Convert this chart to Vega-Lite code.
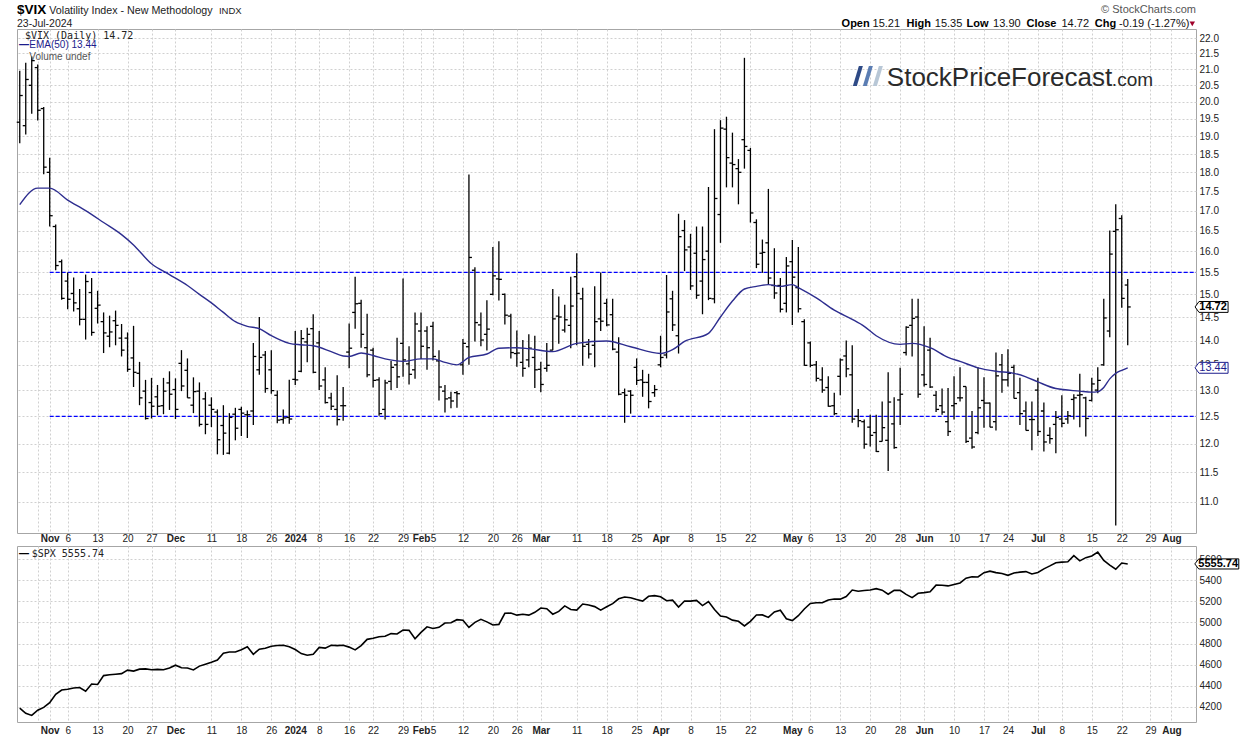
{
"$schema": "https://vega.github.io/schema/vega-lite/v6.json",
"background": "white",
"padding": {"left": 16, "top": 2, "right": 0, "bottom": 0},
"bounds": "flush",
"spacing": 13,
"config": {"view": {"stroke": "#a6a6a6"}, "axis": {"labelFont": "Liberation Sans", "labelFontSize": 10, "labelColor": "#222", "labelOverlap": false, "labelSeparation": -100, "tickCount": 200}, "text": {"font": "Liberation Sans"}},
"datasets": {
"levels": [{"level": 15.5, "start": -3}, {"level": 12.5, "start": -3}],
"vix": [
{"i":-8,"o":19.4,"h":20.95,"l":18.8,"c":20.19},{"i":-7,"o":19.3,"h":21.2,"l":19.05,"c":20.68},{"i":-6,"o":20.5,"h":21.4,"l":19.65,"c":21.27},{"i":-5,"o":21.05,"h":21.15,"l":19.45,"c":19.75},{"i":-4,"o":19.8,"h":19.85,"l":17.95,"c":18.14},{"i":-3,"o":18.0,"h":18.4,"l":16.6,"c":16.87},{"i":-2,"o":16.6,"h":16.65,"l":15.55,"c":15.66},{"i":-1,"o":15.75,"h":15.8,"l":14.88,"c":14.91},
{"i":0,"o":15.3,"h":15.5,"l":14.67,"c":14.89},{"i":1,"o":15.02,"h":15.38,"l":14.62,"c":14.81},{"i":2,"o":14.68,"h":15.12,"l":14.32,"c":14.45},{"i":3,"o":14.45,"h":15.45,"l":14.02,"c":15.29},{"i":4,"o":15.04,"h":15.37,"l":14.1,"c":14.17},
{"i":5,"o":14.69,"h":15.08,"l":14.36,"c":14.76},{"i":6,"o":14.4,"h":14.6,"l":13.74,"c":14.16},{"i":7,"o":14.09,"h":14.53,"l":13.86,"c":14.18},{"i":8,"o":14.42,"h":14.64,"l":13.9,"c":14.32},{"i":9,"o":14.05,"h":14.35,"l":13.67,"c":13.8},
{"i":10,"o":14.05,"h":14.17,"l":13.36,"c":13.41},{"i":11,"o":13.64,"h":14.31,"l":13.06,"c":13.35},{"i":12,"o":13.33,"h":13.56,"l":12.71,"c":12.85},{"i":13,"o":12.98,"h":13.2,"l":12.44,"c":12.46},
{"i":14,"o":12.76,"h":13.24,"l":12.46,"c":12.69},{"i":15,"o":12.87,"h":13.1,"l":12.52,"c":12.69},{"i":16,"o":12.7,"h":13.24,"l":12.54,"c":12.98},{"i":17,"o":13.14,"h":13.37,"l":12.62,"c":12.92},{"i":18,"o":13.01,"h":13.23,"l":12.45,"c":12.63},
{"i":19,"o":13.53,"h":13.8,"l":12.98,"c":13.08},{"i":20,"o":13.39,"h":13.63,"l":12.85,"c":12.85},{"i":21,"o":12.71,"h":13.25,"l":12.56,"c":12.97},{"i":22,"o":12.98,"h":13.15,"l":12.31,"c":12.35},{"i":23,"o":12.83,"h":12.96,"l":12.17,"c":12.35},
{"i":24,"o":12.71,"h":12.86,"l":12.3,"c":12.63},{"i":25,"o":12.58,"h":12.63,"l":11.81,"c":12.07},{"i":26,"o":12.33,"h":12.71,"l":11.8,"c":12.19},{"i":27,"o":11.83,"h":12.56,"l":11.81,"c":12.48},{"i":28,"o":12.54,"h":12.66,"l":12.06,"c":12.28},
{"i":29,"o":12.63,"h":12.68,"l":12.14,"c":12.56},{"i":30,"o":12.53,"h":12.61,"l":12.1,"c":12.53},{"i":31,"o":12.6,"h":13.95,"l":12.34,"c":13.67},{"i":32,"o":13.4,"h":14.5,"l":13.3,"c":13.65},{"i":33,"o":13.7,"h":13.78,"l":12.95,"c":13.03},
{"i":34,"o":13.4,"h":13.8,"l":12.93,"c":12.99},{"i":35,"o":12.9,"h":12.99,"l":12.37,"c":12.43},{"i":36,"o":12.44,"h":12.63,"l":12.36,"c":12.47},{"i":37,"o":12.48,"h":13.2,"l":12.36,"c":12.45},
{"i":38,"o":13.21,"h":14.2,"l":13.1,"c":13.2},{"i":39,"o":13.37,"h":14.22,"l":13.35,"c":14.04},{"i":40,"o":13.97,"h":14.27,"l":13.55,"c":14.13},{"i":41,"o":14.25,"h":14.56,"l":13.33,"c":13.35},
{"i":42,"o":13.95,"h":14.2,"l":13.0,"c":13.08},{"i":43,"o":13.2,"h":13.45,"l":12.74,"c":12.76},{"i":44,"o":12.85,"h":12.95,"l":12.62,"c":12.69},{"i":45,"o":12.63,"h":13.29,"l":12.33,"c":12.44},{"i":46,"o":12.7,"h":13.06,"l":12.42,"c":12.7},
{"i":47,"o":13.76,"h":14.36,"l":13.43,"c":13.84},{"i":48,"o":14.6,"h":15.4,"l":14.25,"c":14.79},{"i":49,"o":14.8,"h":14.88,"l":13.85,"c":14.13},{"i":50,"o":13.85,"h":14.57,"l":13.25,"c":13.3},
{"i":51,"o":13.8,"h":13.85,"l":13.05,"c":13.19},{"i":52,"o":13.2,"h":13.25,"l":12.51,"c":12.55},{"i":53,"o":12.63,"h":13.2,"l":12.44,"c":13.14},{"i":54,"o":13.17,"h":13.58,"l":13.0,"c":13.45},{"i":55,"o":13.5,"h":14.06,"l":13.04,"c":13.26},
{"i":56,"o":13.94,"h":15.36,"l":13.26,"c":13.6},{"i":57,"o":13.52,"h":13.88,"l":13.11,"c":13.31},{"i":58,"o":13.4,"h":14.6,"l":13.22,"c":14.35},{"i":59,"o":14.2,"h":14.6,"l":13.62,"c":13.88},{"i":60,"o":14.2,"h":14.3,"l":13.4,"c":13.85},
{"i":61,"o":14.3,"h":14.4,"l":13.59,"c":13.67},{"i":62,"o":13.58,"h":13.8,"l":12.8,"c":13.06},{"i":63,"o":12.98,"h":13.1,"l":12.57,"c":12.83},{"i":64,"o":12.85,"h":12.97,"l":12.65,"c":12.79},{"i":65,"o":12.95,"h":12.98,"l":12.66,"c":12.93},
{"i":66,"o":13.5,"h":14.03,"l":13.3,"c":13.94},{"i":67,"o":13.87,"h":17.94,"l":13.5,"c":15.85},{"i":68,"o":15.55,"h":15.62,"l":13.98,"c":14.38},{"i":69,"o":14.33,"h":14.6,"l":13.88,"c":14.01},{"i":70,"o":14.13,"h":14.87,"l":13.79,"c":14.24},
{"i":71,"o":15.0,"h":16.1,"l":14.98,"c":15.42},{"i":72,"o":15.35,"h":16.24,"l":14.86,"c":15.34},{"i":73,"o":15.0,"h":15.02,"l":14.34,"c":14.54},{"i":74,"o":14.52,"h":14.57,"l":13.63,"c":13.75},
{"i":75,"o":13.73,"h":14.21,"l":13.46,"c":13.74},{"i":76,"o":13.55,"h":14.01,"l":13.26,"c":13.43},{"i":77,"o":13.6,"h":14.13,"l":13.45,"c":13.84},{"i":78,"o":13.65,"h":14.1,"l":13.04,"c":13.4},{"i":79,"o":13.41,"h":13.56,"l":12.96,"c":13.11},
{"i":80,"o":13.43,"h":13.95,"l":13.36,"c":13.49},{"i":81,"o":13.8,"h":15.12,"l":13.8,"c":14.46},{"i":82,"o":14.52,"h":14.95,"l":13.93,"c":14.5},{"i":83,"o":14.22,"h":14.77,"l":14.17,"c":14.44},{"i":84,"o":14.32,"h":15.4,"l":13.84,"c":14.74},
{"i":85,"o":15.4,"h":15.95,"l":13.9,"c":15.02},{"i":86,"o":14.9,"h":15.15,"l":13.48,"c":13.88},{"i":87,"o":13.92,"h":14.03,"l":13.63,"c":13.72},{"i":88,"o":13.9,"h":15.18,"l":13.45,"c":14.4},{"i":89,"o":14.46,"h":15.5,"l":14.2,"c":14.41},
{"i":90,"o":14.8,"h":14.9,"l":14.3,"c":14.33},{"i":91,"o":14.55,"h":14.9,"l":13.8,"c":13.82},{"i":92,"o":13.76,"h":14.07,"l":12.9,"c":12.92},{"i":93,"o":12.95,"h":13.03,"l":12.38,"c":12.9},{"i":94,"o":12.98,"h":13.0,"l":12.55,"c":12.9},
{"i":95,"o":13.45,"h":13.63,"l":13.1,"c":13.19},{"i":96,"o":13.2,"h":13.4,"l":12.87,"c":13.15},{"i":97,"o":13.15,"h":13.32,"l":12.65,"c":12.78},{"i":98,"o":12.95,"h":13.1,"l":12.87,"c":13.01},
{"i":99,"o":13.5,"h":14.1,"l":13.45,"c":13.65},{"i":100,"o":13.7,"h":15.44,"l":13.63,"c":14.61},{"i":101,"o":14.9,"h":15.08,"l":14.2,"c":14.33},{"i":102,"o":14.1,"h":16.92,"l":13.73,"c":16.35},{"i":103,"o":16.5,"h":16.76,"l":15.53,"c":16.03},
{"i":104,"o":16.1,"h":16.42,"l":15.1,"c":15.19},{"i":105,"o":15.95,"h":16.6,"l":14.9,"c":14.98},{"i":106,"o":15.3,"h":16.6,"l":14.56,"c":15.8},{"i":107,"o":16.0,"h":17.61,"l":14.87,"c":14.91},{"i":108,"o":14.9,"h":19.2,"l":14.8,"c":17.31},
{"i":109,"o":16.9,"h":19.46,"l":16.2,"c":19.23},{"i":110,"o":19.2,"h":19.56,"l":17.6,"c":18.4},{"i":111,"o":18.25,"h":19.1,"l":17.6,"c":18.21},{"i":112,"o":18.1,"h":18.36,"l":17.16,"c":18.0},{"i":113,"o":18.9,"h":21.36,"l":18.1,"c":18.71},
{"i":114,"o":18.6,"h":18.67,"l":16.7,"c":16.94},{"i":115,"o":16.7,"h":16.78,"l":15.6,"c":15.69},{"i":116,"o":15.95,"h":16.28,"l":15.49,"c":15.97},{"i":117,"o":16.2,"h":17.56,"l":15.22,"c":15.37},{"i":118,"o":15.2,"h":16.07,"l":14.9,"c":15.03},
{"i":119,"o":15.2,"h":15.37,"l":14.6,"c":14.67},{"i":120,"o":14.8,"h":15.86,"l":14.6,"c":15.65},{"i":121,"o":15.75,"h":16.27,"l":14.33,"c":15.39},{"i":122,"o":15.15,"h":16.1,"l":14.6,"c":14.68},{"i":123,"o":14.4,"h":14.45,"l":13.48,"c":13.49},
{"i":124,"o":13.95,"h":13.98,"l":13.45,"c":13.49},{"i":125,"o":13.5,"h":13.58,"l":13.17,"c":13.23},{"i":126,"o":13.2,"h":13.45,"l":12.95,"c":13.0},{"i":127,"o":13.05,"h":13.27,"l":12.68,"c":12.69},{"i":128,"o":12.7,"h":12.95,"l":12.52,"c":12.55},
{"i":129,"o":13.27,"h":13.63,"l":12.9,"c":13.6},{"i":130,"o":13.68,"h":14.0,"l":13.25,"c":13.42},{"i":131,"o":13.3,"h":13.9,"l":12.38,"c":12.45},{"i":132,"o":12.5,"h":12.64,"l":12.3,"c":12.42},{"i":133,"o":12.4,"h":12.44,"l":11.91,"c":11.99},
{"i":134,"o":12.3,"h":12.53,"l":11.95,"c":12.15},{"i":135,"o":12.2,"h":12.53,"l":11.85,"c":11.86},{"i":136,"o":12.04,"h":12.78,"l":12.04,"c":12.29},{"i":137,"o":12.06,"h":13.35,"l":11.52,"c":12.77},{"i":138,"o":12.36,"h":12.86,"l":11.91,"c":11.93},
{"i":139,"o":12.81,"h":13.44,"l":12.34,"c":12.92},{"i":140,"o":13.75,"h":14.3,"l":13.69,"c":14.28},{"i":141,"o":14.32,"h":14.9,"l":13.67,"c":14.47},{"i":142,"o":14.5,"h":14.9,"l":12.85,"c":12.92},
{"i":143,"o":13.3,"h":14.3,"l":13.07,"c":13.11},{"i":144,"o":13.8,"h":14.06,"l":13.04,"c":13.06},{"i":145,"o":12.9,"h":12.98,"l":12.58,"c":12.63},{"i":146,"o":12.7,"h":13.03,"l":12.53,"c":12.58},{"i":147,"o":12.4,"h":13.04,"l":12.14,"c":12.22},
{"i":148,"o":12.7,"h":13.27,"l":12.44,"c":12.74},{"i":149,"o":12.85,"h":13.45,"l":12.78,"c":12.85},{"i":150,"o":13.07,"h":13.07,"l":12.01,"c":12.04},{"i":151,"o":12.1,"h":12.6,"l":11.91,"c":11.94},{"i":152,"o":12.2,"h":13.45,"l":12.17,"c":12.66},
{"i":153,"o":12.8,"h":13.25,"l":12.29,"c":12.75},{"i":154,"o":12.75,"h":12.76,"l":12.3,"c":12.3},{"i":155,"o":12.4,"h":13.75,"l":12.24,"c":13.28},{"i":156,"o":13.5,"h":13.72,"l":12.95,"c":13.2},
{"i":157,"o":13.2,"h":13.82,"l":13.07,"c":13.33},{"i":158,"o":13.45,"h":13.5,"l":12.84,"c":12.84},{"i":159,"o":12.95,"h":13.24,"l":12.34,"c":12.55},{"i":160,"o":12.6,"h":12.78,"l":12.24,"c":12.24},{"i":161,"o":12.44,"h":12.78,"l":11.88,"c":12.44},
{"i":162,"o":13.0,"h":13.24,"l":12.14,"c":12.22},{"i":163,"o":12.6,"h":12.76,"l":11.86,"c":12.03},{"i":164,"o":12.15,"h":12.3,"l":12.0,"c":12.09},{"i":165,"o":12.35,"h":12.6,"l":11.83,"c":12.48},
{"i":166,"o":12.45,"h":12.9,"l":12.3,"c":12.37},{"i":167,"o":12.45,"h":12.6,"l":12.36,"c":12.51},{"i":168,"o":12.82,"h":12.92,"l":12.44,"c":12.85},{"i":169,"o":12.9,"h":13.32,"l":12.3,"c":12.91},{"i":170,"o":12.85,"h":12.87,"l":12.13,"c":12.46},
{"i":171,"o":12.8,"h":13.24,"l":12.78,"c":13.12},{"i":172,"o":13.0,"h":13.45,"l":12.94,"c":13.19},{"i":173,"o":13.5,"h":14.9,"l":13.48,"c":14.48},{"i":174,"o":14.2,"h":16.5,"l":14.07,"c":15.93},{"i":175,"o":16.48,"h":17.16,"l":10.62,"c":16.52},
{"i":176,"o":16.8,"h":16.88,"l":14.7,"c":14.91},{"i":177,"o":15.21,"h":15.35,"l":13.9,"c":14.72}
],
"ema": [
{"i":-8,"e":17.15},{"i":-5,"e":17.58},{"i":-3,"e":17.58},{"i":0,"e":17.27},{"i":3,"e":17.0},{"i":6,"e":16.7},{"i":9,"e":16.4},{"i":11,"e":16.15},{"i":14,"e":15.7},{"i":17,"e":15.45},{"i":20,"e":15.2},{"i":22,"e":15.0},{"i":24,"e":14.81},{"i":26,"e":14.6},{"i":28,"e":14.4},{"i":30,"e":14.3},{"i":32,"e":14.25},{"i":34,"e":14.1},{"i":37,"e":13.94},{"i":39,"e":13.91},{"i":41,"e":13.89},{"i":44,"e":13.77},{"i":46,"e":13.68},{"i":47,"e":13.67},{"i":49,"e":13.74},{"i":51,"e":13.69},{"i":53,"e":13.62},{"i":56,"e":13.57},{"i":59,"e":13.62},{"i":61,"e":13.62},{"i":63,"e":13.55},{"i":65,"e":13.5},{"i":67,"e":13.65},{"i":70,"e":13.72},{"i":72,"e":13.84},{"i":75,"e":13.85},{"i":77,"e":13.83},{"i":81,"e":13.77},{"i":85,"e":13.94},{"i":90,"e":13.99},{"i":94,"e":13.87},{"i":99,"e":13.73},{"i":101,"e":13.81},{"i":103,"e":13.98},{"i":107,"e":14.15},{"i":109,"e":14.5},{"i":111,"e":14.85},{"i":113,"e":15.12},{"i":115,"e":15.18},{"i":117,"e":15.22},{"i":119,"e":15.18},{"i":121,"e":15.22},{"i":122,"e":15.15},{"i":125,"e":14.92},{"i":128,"e":14.65},{"i":131,"e":14.45},{"i":133,"e":14.3},{"i":135,"e":14.1},{"i":139,"e":13.92},{"i":141,"e":13.94},{"i":144,"e":13.85},{"i":147,"e":13.65},{"i":149,"e":13.57},{"i":152,"e":13.44},{"i":155,"e":13.37},{"i":158,"e":13.33},{"i":160,"e":13.26},{"i":162,"e":13.16},{"i":165,"e":13.03},{"i":169,"e":12.98},{"i":171,"e":12.96},{"i":172,"e":12.97},{"i":173,"e":13.05},{"i":174,"e":13.22},{"i":175,"e":13.33},{"i":176,"e":13.39},{"i":177,"e":13.44}
],
"spx": [
{"i":-8,"c":4186.77},{"i":-7,"c":4137.23},{"i":-6,"c":4117.37},{"i":-5,"c":4166.82},{"i":-4,"c":4193.8},{"i":-3,"c":4237.86},{"i":-2,"c":4317.78},{"i":-1,"c":4358.34},{"i":0,"c":4365.98},{"i":1,"c":4378.38},{"i":2,"c":4382.78},{"i":3,"c":4347.35},{"i":4,"c":4415.24},{"i":5,"c":4411.55},{"i":6,"c":4495.7},{"i":7,"c":4502.88},{"i":8,"c":4508.24},{"i":9,"c":4514.02},{"i":10,"c":4547.38},{"i":11,"c":4538.19},{"i":12,"c":4556.62},{"i":13,"c":4559.34},{"i":14,"c":4550.43},{"i":15,"c":4554.89},{"i":16,"c":4550.58},{"i":17,"c":4567.8},{"i":18,"c":4594.63},{"i":19,"c":4569.78},{"i":20,"c":4567.18},{"i":21,"c":4549.34},{"i":22,"c":4585.59},{"i":23,"c":4604.37},{"i":24,"c":4622.44},{"i":25,"c":4643.7},{"i":26,"c":4707.09},{"i":27,"c":4719.55},{"i":28,"c":4719.19},{"i":29,"c":4740.56},{"i":30,"c":4768.37},{"i":31,"c":4698.35},{"i":32,"c":4746.75},{"i":33,"c":4754.63},{"i":34,"c":4774.75},{"i":35,"c":4781.58},{"i":36,"c":4783.35},{"i":37,"c":4769.83},{"i":38,"c":4742.83},{"i":39,"c":4704.81},{"i":40,"c":4688.68},{"i":41,"c":4697.24},{"i":42,"c":4763.54},{"i":43,"c":4756.5},{"i":44,"c":4783.45},{"i":45,"c":4780.24},{"i":46,"c":4783.83},{"i":47,"c":4765.98},{"i":48,"c":4739.21},{"i":49,"c":4780.94},{"i":50,"c":4839.81},{"i":51,"c":4850.43},{"i":52,"c":4864.6},{"i":53,"c":4868.55},{"i":54,"c":4894.16},{"i":55,"c":4890.97},{"i":56,"c":4927.93},{"i":57,"c":4924.97},{"i":58,"c":4845.65},{"i":59,"c":4906.19},{"i":60,"c":4958.61},{"i":61,"c":4942.81},{"i":62,"c":4954.23},{"i":63,"c":4995.06},{"i":64,"c":4997.91},{"i":65,"c":5026.61},{"i":66,"c":5021.84},{"i":67,"c":4953.17},{"i":68,"c":5000.62},{"i":69,"c":5029.73},{"i":70,"c":5005.57},{"i":71,"c":4975.51},{"i":72,"c":4981.8},{"i":73,"c":5087.03},{"i":74,"c":5088.8},{"i":75,"c":5069.53},{"i":76,"c":5078.18},{"i":77,"c":5069.76},{"i":78,"c":5096.27},{"i":79,"c":5137.08},{"i":80,"c":5130.95},{"i":81,"c":5078.65},{"i":82,"c":5104.76},{"i":83,"c":5157.36},{"i":84,"c":5123.69},{"i":85,"c":5117.94},{"i":86,"c":5175.27},{"i":87,"c":5165.31},{"i":88,"c":5150.48},{"i":89,"c":5117.09},{"i":90,"c":5149.42},{"i":91,"c":5178.51},{"i":92,"c":5224.62},{"i":93,"c":5241.53},{"i":94,"c":5234.18},{"i":95,"c":5218.19},{"i":96,"c":5203.58},{"i":97,"c":5248.49},{"i":98,"c":5254.35},{"i":99,"c":5243.77},{"i":100,"c":5205.81},{"i":101,"c":5211.49},{"i":102,"c":5147.21},{"i":103,"c":5204.34},{"i":104,"c":5202.39},{"i":105,"c":5209.91},{"i":106,"c":5160.64},{"i":107,"c":5199.06},{"i":108,"c":5123.41},{"i":109,"c":5061.82},{"i":110,"c":5051.41},{"i":111,"c":5022.21},{"i":112,"c":5011.12},{"i":113,"c":4967.23},{"i":114,"c":5010.6},{"i":115,"c":5070.55},{"i":116,"c":5071.63},{"i":117,"c":5048.42},{"i":118,"c":5099.96},{"i":119,"c":5116.17},{"i":120,"c":5035.69},{"i":121,"c":5018.39},{"i":122,"c":5064.2},{"i":123,"c":5127.79},{"i":124,"c":5180.74},{"i":125,"c":5187.7},{"i":126,"c":5187.67},{"i":127,"c":5214.08},{"i":128,"c":5222.68},{"i":129,"c":5221.42},{"i":130,"c":5246.68},{"i":131,"c":5308.15},{"i":132,"c":5297.1},{"i":133,"c":5303.27},{"i":134,"c":5308.13},{"i":135,"c":5321.41},{"i":136,"c":5307.01},{"i":137,"c":5267.84},{"i":138,"c":5304.72},{"i":139,"c":5306.04},{"i":140,"c":5266.95},{"i":141,"c":5235.48},{"i":142,"c":5277.51},{"i":143,"c":5283.4},{"i":144,"c":5291.34},{"i":145,"c":5354.03},{"i":146,"c":5352.96},{"i":147,"c":5346.99},{"i":148,"c":5360.79},{"i":149,"c":5375.32},{"i":150,"c":5421.03},{"i":151,"c":5433.74},{"i":152,"c":5431.6},{"i":153,"c":5473.23},{"i":154,"c":5487.03},{"i":155,"c":5473.17},{"i":156,"c":5464.62},{"i":157,"c":5447.87},{"i":158,"c":5469.3},{"i":159,"c":5477.9},{"i":160,"c":5482.87},{"i":161,"c":5460.48},{"i":162,"c":5475.09},{"i":163,"c":5509.01},{"i":164,"c":5537.02},{"i":165,"c":5567.19},{"i":166,"c":5572.85},{"i":167,"c":5576.98},{"i":168,"c":5633.91},{"i":169,"c":5584.54},{"i":170,"c":5615.35},{"i":171,"c":5631.22},{"i":172,"c":5667.2},{"i":173,"c":5588.27},{"i":174,"c":5544.59},{"i":175,"c":5505.0},{"i":176,"c":5564.41},{"i":177,"c":5555.74}
]
},
"vconcat": [
{
"width": 1179, "height": 504,
"layer": [
{"data": {"name": "levels"}, "mark": {"type": "rule", "color": "#0000ff", "strokeDash": [4, 2], "strokeWidth": 1.2},
 "encoding": {
  "x": {"field": "start", "type": "quantitative", "scale": {"domain": [-8.46, 188.4], "nice": false, "zero": false},
   "axis": {"values": [-5,-3,0,5,10,14,18,24,29,34,38,42,47,51,56,59,61,66,71,75,79,85,90,95,99,104,109,114,121,124,129,134,139,143,148,153,157,162,166,171,176,180.8,184.3], "tickCount": 200,
    "labelExpr": "['','Nov','6','13','20','27','Dec','11','18','26','2024','8','16','22','29','Feb','5','12','20','26','Mar','11','18','25','Apr','8','15','22','May','6','13','20','28','Jun','10','17','24','Jul','8','15','22','29','Aug'][indexof([-5,-3,0,5,10,14,18,24,29,34,38,42,47,51,56,59,61,66,71,75,79,85,90,95,99,104,109,114,121,124,129,134,139,143,148,153,157,162,166,171,176,180.8,184.3], datum.value)]",
    "labelFontWeight": {"condition": {"test": "indexof([-3,18,38,59,79,99,121,143,162,184.3], datum.value) >= 0", "value": "bold"}, "value": "normal"},
    "grid": true, "gridDash": [2, 2], "gridColor": "#d0d0d0", "labelOverlap": false, "labelBound": false, "labelFlush": false, "labelPadding": 0, "title": null, "domain": false, "ticks": false}},
  "x2": {"datum": 188.4},
  "y": {"field": "level", "type": "quantitative", "scale": {"type": "log", "domain": [10.5, 22.3], "nice": false},
   "axis": {"orient": "right", "values": [11,11.5,12,12.5,13,13.5,14,14.5,15,15.5,16,16.5,17,17.5,18,18.5,19,19.5,20,20.5,21,21.5,22], "tickCount": 200, "format": ".1f", "grid": true, "gridDash": [2, 2], "gridColor": "#d0d0d0", "labelOverlap": false, "labelPadding": 3, "title": null, "domain": false, "ticks": false}}
 }},
{"data": {"name": "vix"}, "mark": {"type": "rule", "color": "#000", "strokeWidth": 1.3},
 "encoding": {"x": {"field": "i", "type": "quantitative"}, "y": {"field": "l", "type": "quantitative"}, "y2": {"field": "h"}}},
{"data": {"name": "vix"}, "mark": {"type": "tick", "orient": "horizontal", "size": 3, "thickness": 1.3, "color": "#000", "xOffset": -1.5, "opacity": 1},
 "encoding": {"x": {"field": "i", "type": "quantitative"}, "y": {"field": "o", "type": "quantitative"}}},
{"data": {"name": "vix"}, "mark": {"type": "tick", "orient": "horizontal", "size": 3, "thickness": 1.3, "color": "#000", "xOffset": 1.5, "opacity": 1},
 "encoding": {"x": {"field": "i", "type": "quantitative"}, "y": {"field": "c", "type": "quantitative"}}},
{"data": {"name": "ema"}, "mark": {"type": "line", "color": "#2d2d8f", "strokeWidth": 1.4, "interpolate": "monotone"},
 "encoding": {"x": {"field": "i", "type": "quantitative"}, "y": {"field": "e", "type": "quantitative"}}},
{"data": {"values": [{}]}, "mark": {"type": "text", "align": "left", "baseline": "middle", "fontSize": 13.5, "fontWeight": "bold", "color": "#000"},
 "encoding": {"x": {"datum": -8.46, "type": "quantitative"}, "y": {"datum": 22.94, "type": "quantitative"}, "text": {"value": "$VIX"}}},
{"data": {"values": [{}]}, "mark": {"type": "text", "align": "left", "baseline": "middle", "fontSize": 10.7, "color": "#222"},
 "encoding": {"x": {"datum": -3.07, "type": "quantitative"}, "y": {"datum": 22.925, "type": "quantitative"}, "text": {"value": "Volatility Index - New Methodology"}}},
{"data": {"values": [{}]}, "mark": {"type": "text", "align": "left", "baseline": "middle", "fontSize": 9.5, "color": "#222"},
 "encoding": {"x": {"datum": 25.26, "type": "quantitative"}, "y": {"datum": 22.925, "type": "quantitative"}, "text": {"value": "INDX"}}},
{"data": {"values": [{}]}, "mark": {"type": "text", "align": "left", "baseline": "middle", "fontSize": 10.5, "color": "#222"},
 "encoding": {"x": {"datum": -8.46, "type": "quantitative"}, "y": {"datum": 22.478, "type": "quantitative"}, "text": {"value": "23-Jul-2024"}}},
{"data": {"values": [{}]}, "mark": {"type": "text", "align": "right", "baseline": "middle", "fontSize": 11, "color": "#555"},
 "encoding": {"x": {"datum": 188.4, "type": "quantitative"}, "y": {"datum": 22.93, "type": "quantitative"}, "text": {"value": "© StockCharts.com"}}},
{"data": {"values": [{}]}, "mark": {"type": "text", "align": "left", "baseline": "middle", "fontSize": 11, "fontWeight": "bold", "color": "#000"},
 "encoding": {"x": {"datum": 129.22, "type": "quantitative"}, "y": {"datum": 22.48, "type": "quantitative"}, "text": {"value": "Open"}}},
{"data": {"values": [{}]}, "mark": {"type": "text", "align": "left", "baseline": "middle", "fontSize": 11, "color": "#111"},
 "encoding": {"x": {"datum": 134.39, "type": "quantitative"}, "y": {"datum": 22.48, "type": "quantitative"}, "text": {"value": "15.21"}}},
{"data": {"values": [{}]}, "mark": {"type": "text", "align": "left", "baseline": "middle", "fontSize": 11, "fontWeight": "bold", "color": "#000"},
 "encoding": {"x": {"datum": 140.07, "type": "quantitative"}, "y": {"datum": 22.48, "type": "quantitative"}, "text": {"value": "High"}}},
{"data": {"values": [{}]}, "mark": {"type": "text", "align": "left", "baseline": "middle", "fontSize": 11, "color": "#111"},
 "encoding": {"x": {"datum": 144.79, "type": "quantitative"}, "y": {"datum": 22.48, "type": "quantitative"}, "text": {"value": "15.35"}}},
{"data": {"values": [{}]}, "mark": {"type": "text", "align": "left", "baseline": "middle", "fontSize": 11, "fontWeight": "bold", "color": "#000"},
 "encoding": {"x": {"datum": 150.08, "type": "quantitative"}, "y": {"datum": 22.48, "type": "quantitative"}, "text": {"value": "Low"}}},
{"data": {"values": [{}]}, "mark": {"type": "text", "align": "left", "baseline": "middle", "fontSize": 11, "color": "#111"},
 "encoding": {"x": {"datum": 154.52, "type": "quantitative"}, "y": {"datum": 22.48, "type": "quantitative"}, "text": {"value": "13.90"}}},
{"data": {"values": [{}]}, "mark": {"type": "text", "align": "left", "baseline": "middle", "fontSize": 11, "fontWeight": "bold", "color": "#000"},
 "encoding": {"x": {"datum": 160.1, "type": "quantitative"}, "y": {"datum": 22.48, "type": "quantitative"}, "text": {"value": "Close"}}},
{"data": {"values": [{}]}, "mark": {"type": "text", "align": "left", "baseline": "middle", "fontSize": 11, "color": "#111"},
 "encoding": {"x": {"datum": 165.94, "type": "quantitative"}, "y": {"datum": 22.48, "type": "quantitative"}, "text": {"value": "14.72"}}},
{"data": {"values": [{}]}, "mark": {"type": "text", "align": "left", "baseline": "middle", "fontSize": 11, "fontWeight": "bold", "color": "#000"},
 "encoding": {"x": {"datum": 171.5, "type": "quantitative"}, "y": {"datum": 22.48, "type": "quantitative"}, "text": {"value": "Chg"}}},
{"data": {"values": [{}]}, "mark": {"type": "text", "align": "left", "baseline": "middle", "fontSize": 11, "color": "#111"},
 "encoding": {"x": {"datum": 175.56, "type": "quantitative"}, "y": {"datum": 22.48, "type": "quantitative"}, "text": {"value": "-0.19 (-1.27%)"}}},
{"data": {"values": [{}]}, "mark": {"type": "point", "shape": "triangle-down", "size": 30, "filled": true, "color": "#a0002a", "opacity": 1},
 "encoding": {"x": {"datum": 187.78, "type": "quantitative"}, "y": {"datum": 22.47, "type": "quantitative"}}},
{"data": {"values": [{}]}, "mark": {"type": "text", "align": "left", "baseline": "middle", "font": "DejaVu Sans Mono", "fontSize": 10, "color": "#222"},
 "encoding": {"x": {"datum": -7.13, "type": "quantitative"}, "y": {"datum": 22.07, "type": "quantitative"}, "text": {"value": "$VIX (Daily) 14.72"}}},
{"data": {"values": [{}]}, "mark": {"type": "text", "align": "left", "baseline": "middle", "fontSize": 10, "fontWeight": "bold", "color": "#1c1c8c"},
 "encoding": {"x": {"datum": -8.13, "type": "quantitative"}, "y": {"datum": 21.77, "type": "quantitative"}, "text": {"value": "—"}}},
{"data": {"values": [{}]}, "mark": {"type": "text", "align": "left", "baseline": "middle", "fontSize": 10, "color": "#1c1c8c"},
 "encoding": {"x": {"datum": -6.41, "type": "quantitative"}, "y": {"datum": 21.77, "type": "quantitative"}, "text": {"value": "EMA(50) 13.44"}}},
{"data": {"values": [{}]}, "mark": {"type": "text", "align": "left", "baseline": "middle", "fontSize": 10, "color": "#555"},
 "encoding": {"x": {"datum": -6.41, "type": "quantitative"}, "y": {"datum": 21.4, "type": "quantitative"}, "text": {"value": "Volume undef"}}},
{"data": {"values": [{}]}, "mark": {"type": "point", "shape": "M-0.5,1L-0.1,1L0.5,-1L0.1,-1Z", "size": 400, "filled": true, "color": "#2e4a86", "opacity": 1},
 "encoding": {"x": {"datum": 131.94, "type": "quantitative"}, "y": {"datum": 20.79, "type": "quantitative"}}},
{"data": {"values": [{}]}, "mark": {"type": "point", "shape": "M-0.5,1L-0.1,1L0.5,-1L0.1,-1Z", "size": 400, "filled": true, "color": "#5b7db3", "opacity": 1},
 "encoding": {"x": {"datum": 133.61, "type": "quantitative"}, "y": {"datum": 20.79, "type": "quantitative"}}},
{"data": {"values": [{}]}, "mark": {"type": "point", "shape": "M-0.5,1L-0.1,1L0.5,-1L0.1,-1Z", "size": 400, "filled": true, "color": "#b8c7d6", "opacity": 1},
 "encoding": {"x": {"datum": 135.28, "type": "quantitative"}, "y": {"datum": 20.79, "type": "quantitative"}}},
{"data": {"values": [{}]}, "mark": {"type": "text", "align": "left", "baseline": "alphabetic", "fontSize": 26, "color": "#2b2b2b"},
 "encoding": {"x": {"datum": 136.78, "type": "quantitative"}, "y": {"datum": 20.48, "type": "quantitative"}, "text": {"value": "StockPriceForecast"}}},
{"data": {"values": [{}]}, "mark": {"type": "text", "align": "left", "baseline": "alphabetic", "fontSize": 19, "color": "#2b2b2b"},
 "encoding": {"x": {"datum": 174.35, "type": "quantitative"}, "y": {"datum": 20.48, "type": "quantitative"}, "text": {"value": ".com"}}},
{"data": {"name": "vix"}, "transform": [{"filter": "datum.i == 177"}],
 "mark": {"type": "point", "shape": "M-1,0L-0.76,-0.33L1,-0.33L1,0.33L-0.76,0.33Z", "size": 1089, "filled": true, "fill": "white", "stroke": "#000", "strokeWidth": 1, "opacity": 1},
 "encoding": {"x": {"datum": 191, "type": "quantitative"}, "y": {"field": "c", "type": "quantitative"}}},
{"data": {"name": "vix"}, "transform": [{"filter": "datum.i == 177"}],
 "mark": {"type": "text", "align": "center", "baseline": "middle", "fontSize": 11, "fontWeight": "bold", "color": "#000"},
 "encoding": {"x": {"datum": 191.25, "type": "quantitative"}, "y": {"field": "c", "type": "quantitative"}, "text": {"field": "c", "format": ".2f"}}},
{"data": {"name": "ema"}, "transform": [{"filter": "datum.i == 177"}],
 "mark": {"type": "point", "shape": "M-1,0L-0.76,-0.33L1,-0.33L1,0.33L-0.76,0.33Z", "size": 1089, "filled": true, "fill": "white", "stroke": "#1c1c8c", "strokeWidth": 1, "opacity": 1},
 "encoding": {"x": {"datum": 191, "type": "quantitative"}, "y": {"field": "e", "type": "quantitative"}}},
{"data": {"name": "ema"}, "transform": [{"filter": "datum.i == 177"}],
 "mark": {"type": "text", "align": "center", "baseline": "middle", "fontSize": 11, "color": "#1c1c8c"},
 "encoding": {"x": {"datum": 191.25, "type": "quantitative"}, "y": {"field": "e", "type": "quantitative"}, "text": {"field": "e", "format": ".2f"}}}
]
},
{
"width": 1179, "height": 176,
"layer": [
{"data": {"name": "spx"}, "mark": {"type": "line", "color": "#000", "strokeWidth": 1.6},
 "encoding": {
  "x": {"field": "i", "type": "quantitative", "scale": {"domain": [-8.46, 188.4], "nice": false, "zero": false},
   "axis": {"values": [-5,-3,0,5,10,14,18,24,29,34,38,42,47,51,56,59,61,66,71,75,79,85,90,95,99,104,109,114,121,124,129,134,139,143,148,153,157,162,166,171,176,180.8,184.3], "tickCount": 200,
    "labelExpr": "['','Nov','6','13','20','27','Dec','11','18','26','2024','8','16','22','29','Feb','5','12','20','26','Mar','11','18','25','Apr','8','15','22','May','6','13','20','28','Jun','10','17','24','Jul','8','15','22','29','Aug'][indexof([-5,-3,0,5,10,14,18,24,29,34,38,42,47,51,56,59,61,66,71,75,79,85,90,95,99,104,109,114,121,124,129,134,139,143,148,153,157,162,166,171,176,180.8,184.3], datum.value)]",
    "labelFontWeight": {"condition": {"test": "indexof([-3,18,38,59,79,99,121,143,162,184.3], datum.value) >= 0", "value": "bold"}, "value": "normal"},
    "grid": true, "gridDash": [2, 2], "gridColor": "#d0d0d0", "labelOverlap": false, "labelBound": false, "labelFlush": false, "labelPadding": 3, "title": null, "domain": false, "ticks": false}},
  "y": {"field": "c", "type": "quantitative", "scale": {"domain": [4055, 5726], "nice": false, "zero": false},
   "axis": {"orient": "right", "values": [4200,4400,4600,4800,5000,5200,5400,5600], "tickCount": 200, "format": "d", "grid": true, "gridDash": [2, 2], "gridColor": "#d0d0d0", "labelOverlap": false, "labelPadding": 3, "title": null, "domain": false, "ticks": false}}
 }},
{"data": {"values": [{}]}, "mark": {"type": "text", "align": "left", "baseline": "middle", "fontSize": 10, "fontWeight": "bold", "color": "#000"},
 "encoding": {"x": {"datum": -8.13, "type": "quantitative"}, "y": {"datum": 5653, "type": "quantitative"}, "text": {"value": "—"}}},
{"data": {"values": [{}]}, "mark": {"type": "text", "align": "left", "baseline": "middle", "font": "DejaVu Sans Mono", "fontSize": 10, "color": "#222"},
 "encoding": {"x": {"datum": -6.0, "type": "quantitative"}, "y": {"datum": 5653, "type": "quantitative"}, "text": {"value": "$SPX 5555.74"}}},
{"data": {"name": "spx"}, "transform": [{"filter": "datum.i == 177"}],
 "mark": {"type": "point", "shape": "M-1,0L-0.82,-0.23L1,-0.23L1,0.23L-0.82,0.23Z", "size": 1936, "filled": true, "fill": "white", "stroke": "#000", "strokeWidth": 1, "opacity": 1},
 "encoding": {"x": {"datum": 191.87, "type": "quantitative"}, "y": {"field": "c", "type": "quantitative"}}},
{"data": {"name": "spx"}, "transform": [{"filter": "datum.i == 177"}],
 "mark": {"type": "text", "align": "center", "baseline": "middle", "fontSize": 11, "fontWeight": "bold", "color": "#000"},
 "encoding": {"x": {"datum": 192.1, "type": "quantitative"}, "y": {"field": "c", "type": "quantitative"}, "text": {"field": "c", "format": ".2f"}}}
]
}
]
}
